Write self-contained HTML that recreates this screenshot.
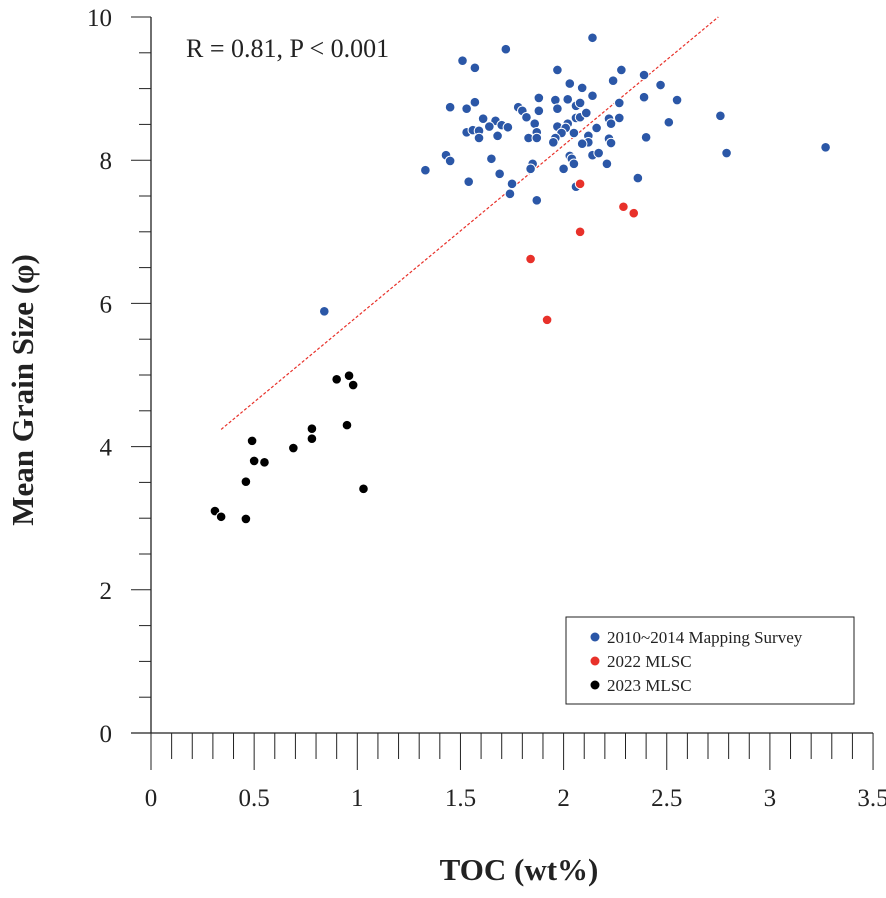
<!DOCTYPE html>
<html><head><meta charset="utf-8"><style>
html,body{margin:0;padding:0;background:#fff;}
svg text{font-family:"Liberation Serif",serif;fill:#222;}
</style></head><body>
<svg id="chart" width="886" height="893" viewBox="0 0 886 893" xmlns="http://www.w3.org/2000/svg">
<g id="axes"></g><g id="marks"></g>
</svg>
<script>
const xTicks=[0,0.5,1,1.5,2,2.5,3,3.5];
const xTickLabels=["0","0.5","1","1.5","2","2.5","3","3.5"];
const yTicks=[0,2,4,6,8,10];
const yTickLabels=["0","2","4","6","8","10"];
const blueX=[2.14,1.72,1.51,1.57,1.97,2.28,2.39,2.24,2.03,2.09,1.45,1.53,1.57,1.78,1.80,1.82,1.88,1.88,1.96,1.97,2.02,2.06,2.08,2.14,2.27,2.39,1.61,1.67,1.70,1.73,1.64,1.53,1.56,1.59,1.59,1.68,1.86,1.87,1.83,1.87,1.97,2.02,2.01,1.99,2.05,2.06,2.08,2.11,1.96,1.95,2.12,2.12,2.09,2.16,2.22,2.23,2.27,2.22,2.23,2.40,1.43,1.45,1.33,1.65,1.69,1.54,1.75,1.74,1.85,1.84,1.87,2.03,2.04,2.05,2.00,2.14,2.17,2.21,2.36,2.06,2.47,2.39,2.55,2.51,2.76,2.79,3.27,0.84];
const blueY=[9.71,9.55,9.39,9.29,9.26,9.26,9.19,9.11,9.07,9.01,8.74,8.72,8.81,8.74,8.69,8.60,8.87,8.69,8.84,8.72,8.85,8.76,8.80,8.90,8.80,8.87,8.58,8.55,8.49,8.46,8.47,8.39,8.42,8.41,8.31,8.34,8.51,8.39,8.31,8.31,8.47,8.51,8.45,8.38,8.38,8.59,8.60,8.66,8.31,8.25,8.34,8.25,8.23,8.45,8.58,8.51,8.59,8.30,8.24,8.32,8.07,7.99,7.86,8.02,7.81,7.70,7.67,7.53,7.95,7.88,7.44,8.06,8.02,7.95,7.88,8.07,8.10,7.95,7.75,7.63,9.05,8.88,8.84,8.53,8.62,8.10,8.18,5.89];
const redX=[2.08,2.29,2.34,2.08,1.84,1.92];
const redY=[7.67,7.35,7.26,7.00,6.62,5.77];
const blackX=[0.90,0.96,0.98,0.95,0.78,0.78,0.69,0.49,0.50,0.55,0.46,1.03,0.31,0.34,0.46];
const blackY=[4.94,4.99,4.86,4.30,4.25,4.11,3.98,4.08,3.80,3.78,3.51,3.41,3.10,3.02,2.99];
const trendX=[0.34,2.75];
const trendY=[4.24,10.0];

const X0=151,XS=206.3,Y0=733,YS=71.6;
const sx=v=>X0+v*XS, sy=v=>Y0-v*YS;
const NS="http://www.w3.org/2000/svg";
const axes=document.getElementById('axes'), marks=document.getElementById('marks');
function mk(tag,attrs,parent){const e=document.createElementNS(NS,tag);for(const k in attrs)e.setAttribute(k,attrs[k]);parent.appendChild(e);return e;}

let el;
el=mk('line',{x1:X0,y1:sy(10),x2:X0,y2:Y0,stroke:'#222','stroke-width':1.3},axes);


el=mk('line',{x1:X0-20,y1:Y0,x2:sx(3.5),y2:Y0,stroke:'#222','stroke-width':1.3},axes);


for(let v=0;v<=3.5001;v+=0.1){
  const major=Math.abs(v*2-Math.round(v*2))<1e-6;
  el=mk('line',{x1:sx(v),y1:Y0,x2:sx(v),y2:Y0+(major?37:26),stroke:'#222','stroke-width':1},axes);
  
  
}
for(let v=0;v<=10.001;v+=0.5){
  const major=Math.abs(v/2-Math.round(v/2))<1e-6;
  el=mk('line',{x1:X0-(major?20:12),y1:sy(v),x2:X0,y2:sy(v),stroke:'#222','stroke-width':1},axes);
  
  
}
xTicks.forEach((v,i)=>{
  el=mk('text',{x:sx(v),y:806,'font-size':25,'text-anchor':'middle'},axes);el.textContent=xTickLabels[i];
  
  
});
yTicks.forEach((v,i)=>{
  el=mk('text',{x:112,y:sy(v)+9,'font-size':25,'text-anchor':'end'},axes);el.textContent=yTickLabels[i];
  
  
});
el=mk('text',{x:519,y:880,'font-size':31,'font-weight':'bold','text-anchor':'middle'},axes);el.textContent='TOC (wt%)';


el=mk('text',{x:0,y:0,'font-size':31,'font-weight':'bold','text-anchor':'middle',transform:'translate(33,390) rotate(-90)'},axes);el.textContent='Mean Grain Size (φ)';


el=mk('text',{x:186,y:57,'font-size':26},axes);el.textContent='R = 0.81, P < 0.001';



el=mk('line',{x1:sx(trendX[0]),y1:sy(trendY[0]),x2:sx(trendX[1]),y2:sy(trendY[1]),stroke:'#e8312a','stroke-width':1.2,'stroke-dasharray':'3,2'},marks);



function pts(xs,ys,color,name){
  xs.forEach((x,i)=>{
    el=mk('circle',{cx:sx(x),cy:sy(ys[i]),r:4.8,fill:color,stroke:'#fff','stroke-width':1},marks);
    
    
  });
}
pts(blueX,blueY,'#2b57a7','point-2010-2014');
pts(redX,redY,'#e8312a','point-2022');
pts(blackX,blackY,'#000','point-2023');

const lg=mk('g',{},marks);


mk('rect',{x:566,y:617,width:288,height:87,fill:'#fff',stroke:'#222','stroke-width':1},lg);
[['#2b57a7','2010~2014 Mapping Survey'],['#e8312a','2022 MLSC'],['#000','2023 MLSC']].forEach((d,i)=>{
  const g=mk('g',{},lg);
  
  
  mk('circle',{cx:595,cy:637+i*24,r:4.5,fill:d[0]},g);
  const t=mk('text',{x:607,y:643+i*24,'font-size':17},g);t.textContent=d[1];
});
</script>
</body></html>
